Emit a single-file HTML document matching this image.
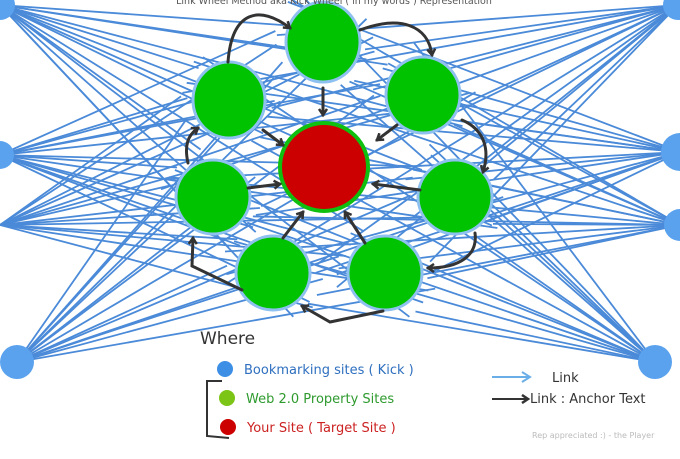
<!DOCTYPE html>
<html><head><meta charset="utf-8"><style>
html,body{margin:0;padding:0;background:#fff;width:680px;height:459px;overflow:hidden}
svg{display:block}
text{font-family:"DejaVu Sans","Liberation Sans",sans-serif}
</style></head><body>
<svg id="s" width="680" height="459" viewBox="0 0 680 459" xmlns="http://www.w3.org/2000/svg">
<defs>
<marker id="ab" markerWidth="10" markerHeight="10" refX="7" refY="5" orient="auto" markerUnits="userSpaceOnUse"><path d="M1,1 L7,5 L1,9" fill="none" stroke="#333" stroke-width="2.5"/></marker>
<marker id="al" markerWidth="12" markerHeight="12" refX="9" refY="6" orient="auto" markerUnits="userSpaceOnUse"><path d="M1,1 L9,6 L1,11" fill="none" stroke="#6aaee8" stroke-width="2"/></marker>
</defs>
<g id="lines" stroke="#4a8ad8" stroke-width="1.8" fill="none"></g>
<g id="nodes"></g>
<text x="334" y="4" font-size="9.5" fill="#555" text-anchor="middle">Link Wheel Method aka Kick Wheel ( in my words ) Representation</text>
<g stroke="#333" stroke-width="3" fill="none" marker-end="url(#ab)" stroke-linecap="round">
<path d="M228,62 C232,10 260,5 290,28"/>
<path d="M360,30 C400,15 428,25 432,55"/>
<path d="M323,88 L323,115"/>
<path d="M263,130 L283,145"/>
<path d="M397,125 L377,140"/>
<path d="M462,120 C485,130 490,150 483,172"/>
<path d="M420,190 L373,184"/>
<path d="M248,188 L280,184"/>
<path d="M188,163 C184,145 188,135 198,128"/>
<path d="M242,290 L192,266 L193,238"/>
<path d="M475,233 C478,255 460,268 428,268"/>
<path d="M383,311 L330,322 L302,306"/>
<path d="M283,238 L303,212"/>
<path d="M365,243 L345,212"/>
</g>
<text x="200" y="344" font-size="17" fill="#333">Where</text>
<circle cx="225" cy="369" r="8" fill="#3d8fe6"/>
<text x="244" y="374" font-size="13" fill="#2e6fbf">Bookmarking sites ( Kick )</text>
<circle cx="227" cy="398" r="8" fill="#7cc416"/>
<text x="246" y="403" font-size="13" fill="#2e9a2e">Web 2.0 Property Sites</text>
<circle cx="228" cy="427" r="8" fill="#cc0000"/>
<text x="247" y="432" font-size="13" fill="#cc2222">Your Site ( Target Site )</text>
<path d="M222,381 L207,381 L207,436 L229,438" fill="none" stroke="#333" stroke-width="2"/>
<line x1="492" y1="377" x2="530" y2="377" stroke="#6aaee8" stroke-width="2" marker-end="url(#al)"/>
<text x="552" y="382" font-size="13" fill="#333">Link</text>
<line x1="492" y1="399" x2="528" y2="399" stroke="#333" stroke-width="2" marker-end="url(#ab)"/>
<text x="530" y="403" font-size="13" fill="#333">Link : Anchor Text</text>
<text x="532" y="438" font-size="8" fill="#bbb">Rep appreciated :) - the Player</text>
</svg>
<script>
var ns="http://www.w3.org/2000/svg";
var blue=[[0,5,15],[0,155,14],[0,225,0],[17,362,17],[678,5,15],[680,152,19],[680,225,16],[655,362,17]];
var green=[[323,42,37,40],[229,100,36,38],[423,95,37,38],[213,197,37,37],[455,197,37,37],[273,273,37,37],[385,273,37,37]];
var L=document.getElementById("lines"),N=document.getElementById("nodes");
blue.forEach(function(b,bi){green.forEach(function(g,gi){
 for(var k=0;k<2;k++){
  var dx=b[0]-g[0],dy=b[1]-g[1],d=Math.sqrt(dx*dx+dy*dy);
  var off=(k==0?1:-1)*(12+((bi*3+gi)%4)*5);
  var px=-dy/d,py=dx/d;
  var tx=g[0]+px*off+dx/d*(g[2]+4)*(k==0?1:-1.1);
  var ty=g[1]+py*off+dy/d*(g[3]+4)*(k==0?1:-1.1);
  var l=document.createElementNS(ns,"line");
  l.setAttribute("x1",b[0]);l.setAttribute("y1",b[1]);l.setAttribute("x2",tx.toFixed(1));l.setAttribute("y2",ty.toFixed(1));L.appendChild(l);
 }});});
blue.forEach(function(b){if(!b[2])return;var c=document.createElementNS(ns,"circle");c.setAttribute("cx",b[0]);c.setAttribute("cy",b[1]);c.setAttribute("r",b[2]);c.setAttribute("fill","#5aa2ee");N.appendChild(c);});
green.forEach(function(g){var e=document.createElementNS(ns,"ellipse");e.setAttribute("cx",g[0]);e.setAttribute("cy",g[1]);e.setAttribute("rx",g[2]);e.setAttribute("ry",g[3]);e.setAttribute("fill","#00c300");e.setAttribute("stroke","#8ec0f0");e.setAttribute("stroke-width","3");N.appendChild(e);});
var r=document.createElementNS(ns,"ellipse");r.setAttribute("cx",324);r.setAttribute("cy",167);r.setAttribute("rx",44);r.setAttribute("ry",44);r.setAttribute("fill","#cc0000");r.setAttribute("stroke","#10c010");r.setAttribute("stroke-width","4");N.appendChild(r);
</script>
</body></html>
